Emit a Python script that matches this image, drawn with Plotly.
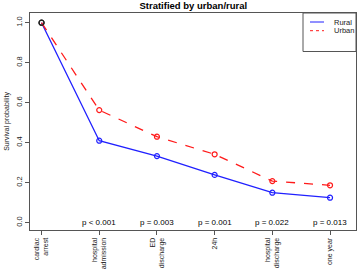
import plotly.graph_objects as go

stages = ["cardiac<br>arrest", "hospital<br>admission", "ED<br>discharge", "24h", "hospital<br>discharge", "one year"]
rural = [1.0, 0.41, 0.333, 0.239, 0.15, 0.125]
urban = [1.0, 0.563, 0.43, 0.342, 0.208, 0.187]
pvals = ["", "p < 0.001", "p = 0.003", "p = 0.001", "p = 0.022", "p = 0.013"]
series_names = ["Rural", "Urban"]
xs = list(range(1, len(stages) + 1))

FONT = "Liberation Sans, Arial, sans-serif"
BLUE = "#2020ff"
RED = "#ff1a1a"

fig = go.Figure()
fig.add_trace(go.Scatter(
    x=xs, y=rural, name=series_names[0], mode="lines+markers", showlegend=False,
    line=dict(color=BLUE, width=1.3),
    marker=dict(symbol="circle-open", size=5, color=["#202020"] + [BLUE] * 5, line=dict(width=1.2)),
))
fig.add_trace(go.Scatter(
    x=xs, y=urban, name=series_names[1], mode="lines+markers", showlegend=False,
    line=dict(color=RED, width=1.3, dash="dash"),
    marker=dict(symbol="circle-open", size=5, color=["#202020"] + [RED] * 5, line=dict(width=1.2)),
))

for x, p in zip(xs, pvals):
    if p:
        fig.add_annotation(x=x, y=0, text=p, showarrow=False, xanchor="center", yanchor="middle",
                           font=dict(size=8, color="black", family=FONT))

# manual legend box (top-right, R style)
W, H = 358, 275
ml, mr, mt, mb = 30, 2, 13, 45
pw, ph = W - ml - mr, H - mt - mb
def px(xp):
    return (xp - ml) / pw
def py(yp):
    return 1 - (yp - mt) / ph
fig.add_shape(type="rect", xref="paper", yref="paper", x0=px(303), x1=1, y0=py(51.5), y1=1,
              line=dict(color="#555", width=1), fillcolor="white", layer="above")
for i, (nm, col, dash) in enumerate(zip(series_names, [BLUE, RED], ["solid", "dot"])):
    yy = 22 + i * 8.7
    fig.add_shape(type="line", xref="paper", yref="paper", x0=px(310), x1=px(324), y0=py(yy), y1=py(yy),
                  line=dict(color=col, width=1, dash=dash), layer="above")
    fig.add_annotation(xref="paper", yref="paper", x=px(332), y=py(yy), text=nm, showarrow=False,
                       xanchor="left", yanchor="middle", font=dict(size=7.5, color="#222", family=FONT))

fig.update_layout(
    width=W, height=H,
    margin=dict(l=ml, r=mr, t=mt, b=mb),
    paper_bgcolor="white", plot_bgcolor="white",
    font=dict(family=FONT, size=7, color="#222"),
    title=dict(text="<b>Stratified by urban/rural</b>", x=0.54, xanchor="center", y=0.99, yanchor="top",
               pad=dict(t=0, b=0), font=dict(size=9.5, color="black", family=FONT)),
    showlegend=False,
)
fig.update_xaxes(
    range=[0.8, 6.45], tickvals=xs, ticktext=stages, tickangle=-90, automargin=False,
    showline=True, mirror=True, linecolor="#555", linewidth=1,
    ticks="outside", ticklen=4, tickcolor="#555", showgrid=False, zeroline=False,
    tickfont=dict(size=7, color="#222"),
)
fig.update_yaxes(
    range=[-0.0365, 1.0485], tickvals=[0, 0.2, 0.4, 0.6, 0.8, 1.0],
    ticktext=["0.0", "0.2", "0.4", "0.6", "0.8", "1.0"], tickangle=-90, automargin=False,
    showline=True, mirror=True, linecolor="#555", linewidth=1,
    ticks="outside", ticklen=4, tickcolor="#555", showgrid=False, zeroline=False,
    tickfont=dict(size=7.5, color="#222"),
    title=dict(text="Survival probability", font=dict(size=7, color="#222"), standoff=4),
)

fig.write_html("out.html", config={"displayModeBar": False},
               post_script="document.body.style.margin='0';document.body.style.overflow='hidden';")
